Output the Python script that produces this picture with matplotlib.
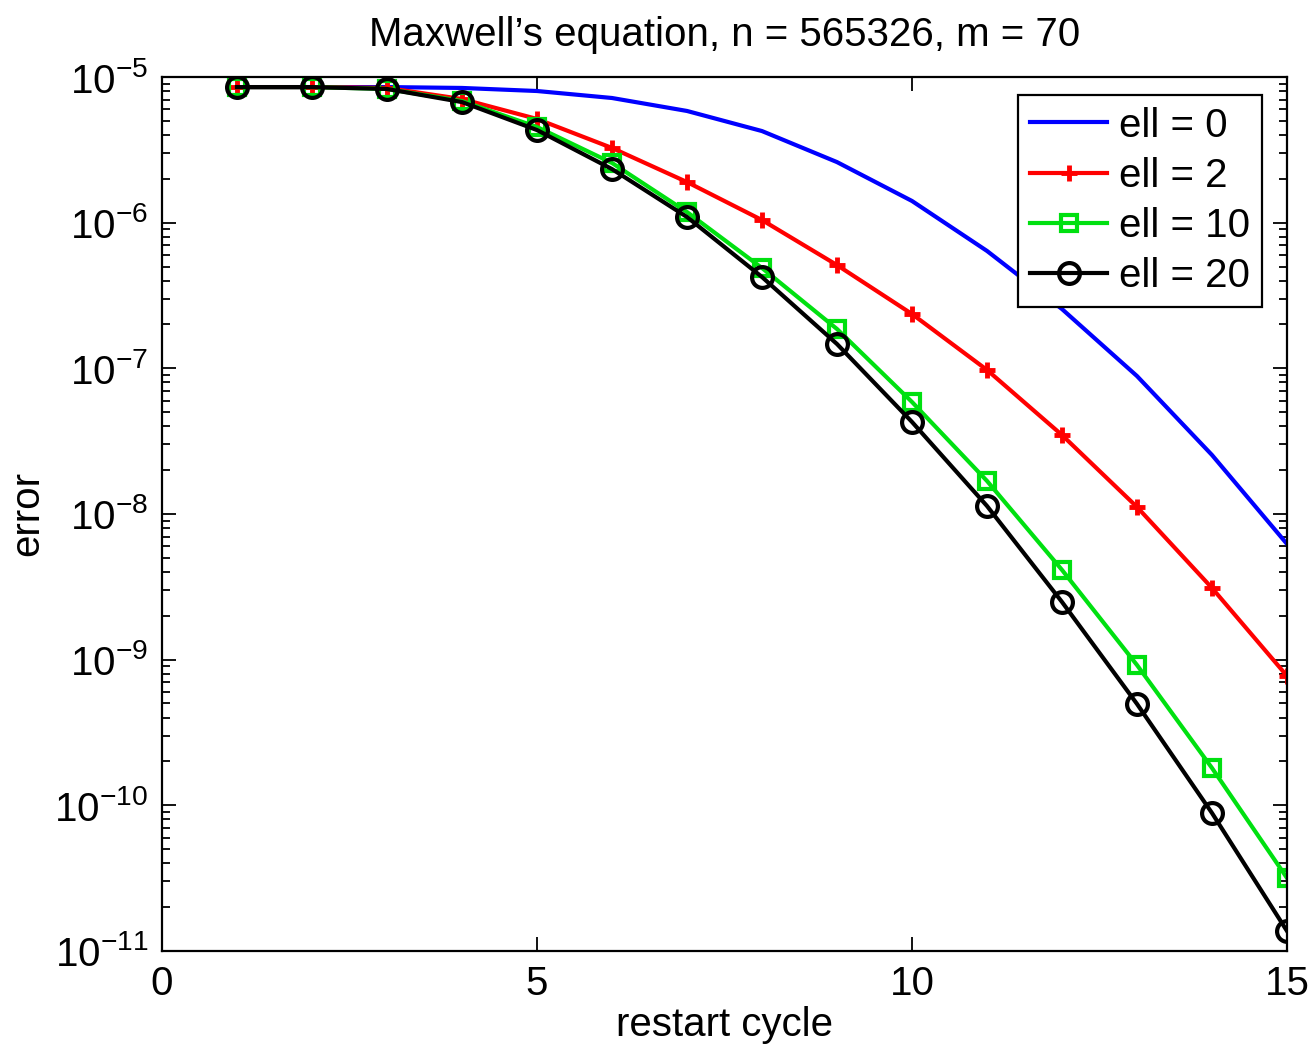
import numpy as np
import matplotlib
matplotlib.use("Agg")
import matplotlib.pyplot as plt
from matplotlib.ticker import FixedLocator, LogLocator, NullFormatter

plt.rcParams['font.family'] = ['Liberation Sans', 'DejaVu Sans']
plt.rcParams['mathtext.fontset'] = 'custom'
plt.rcParams['mathtext.rm'] = 'Liberation Sans'
plt.rcParams['mathtext.it'] = 'Liberation Sans:italic'
plt.rcParams['mathtext.bf'] = 'Liberation Sans:bold'

# restart cycle
cycles = [1, 2, 3, 4, 5, 6, 7, 8, 9, 10, 11, 12, 13, 14, 15]

# log10 of the error
ell0 = [-5.069, -5.069, -5.069, -5.075, -5.096, -5.144, -5.233, -5.371,
        -5.584, -5.851, -6.194, -6.593, -7.053, -7.595, -8.206]
ell2 = [-5.069, -5.069, -5.075, -5.151, -5.288, -5.487, -5.721, -5.982,
        -6.291, -6.627, -7.011, -7.458, -7.952, -8.508, -9.112]
ell10 = [-5.069, -5.069, -5.082, -5.165, -5.343, -5.590, -5.927, -6.311,
         -6.730, -7.231, -7.773, -8.384, -9.037, -9.744, -10.499]
ell20 = [-5.069, -5.069, -5.082, -5.172, -5.364, -5.632, -5.961, -6.373,
         -6.833, -7.368, -7.945, -8.604, -9.304, -10.053, -10.863]

decades = [1e-11, 1e-10, 1e-9, 1e-8, 1e-7, 1e-6, 1e-5]

fig = plt.figure(figsize=(13.15, 10.48), dpi=100)
ax = fig.add_axes([0.1232, 0.0926, 0.8555, 0.8339])

lw = 3.0
ax.semilogy(cycles, 10.0 ** np.array(ell0), '-', color='blue', lw=lw, label='ell = 0')
ax.semilogy(cycles, 10.0 ** np.array(ell2), '-+', color='red', lw=lw,
            ms=12, mew=3.5, label='ell = 2')
ax.semilogy(cycles, 10.0 ** np.array(ell10), '-s', color='#00e010', lw=lw,
            ms=11, mew=3, mfc='none', label='ell = 10')
ax.semilogy(cycles, 10.0 ** np.array(ell20), '-o', color='black', lw=lw,
            ms=15, mew=3, mfc='none', label='ell = 20')

ax.set_xlim(0, 15)
ax.set_ylim(decades[0], decades[-1])
ax.set_xticks([0, 5, 10, 15])
ax.yaxis.set_major_locator(FixedLocator(decades))
ax.yaxis.set_minor_locator(LogLocator(base=10, subs=np.arange(2, 10), numticks=20))
ax.yaxis.set_minor_formatter(NullFormatter())

ax.tick_params(which='both', direction='in', top=True, right=True,
               labelsize=29, width=1.3)
ax.tick_params(which='major', length=10, pad=10)
ax.tick_params(which='minor', length=6)
for s in ax.spines.values():
    s.set_linewidth(1.6)

ax.set_xlabel('restart cycle', fontsize=29, labelpad=2)
ax.set_ylabel('error', fontsize=29, labelpad=6)
ax.set_title('Maxwell\u2019s equation, n = 565326, m = 70', fontsize=29, pad=22)

leg = ax.legend(loc='upper right', fontsize=29, fancybox=False, framealpha=1,
                edgecolor='black', handlelength=1.9, handletextpad=0.3,
                labelspacing=0.3, borderpad=0.3, borderaxespad=0,
                bbox_to_anchor=(0.978, 0.98))
leg.get_frame().set_linewidth(1.6)

fig.savefig('out.png', dpi=100)
